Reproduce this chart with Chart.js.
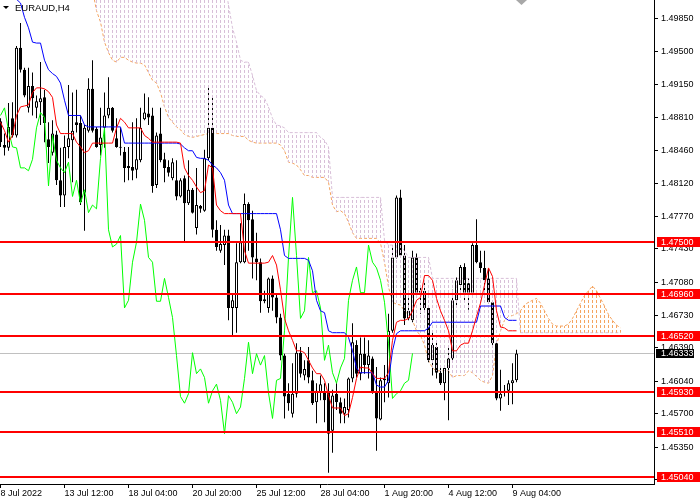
<!DOCTYPE html>
<html><head><meta charset="utf-8">
<script src="https://cdn.jsdelivr.net/npm/chart.js@4"></script>
<style>html,body{margin:0;padding:0;background:#fff;overflow:hidden}canvas{display:block}</style>
</head><body>
<canvas id="c" width="700" height="500"></canvas>
<script>
const symbolTitle = 'EURAUD,H4';
const xTickIndex = [0, 16, 32, 48, 64, 80, 96, 112, 128];
const xTickLabels = ['8 Jul 2022','13 Jul 12:00','18 Jul 04:00','20 Jul 20:00','25 Jul 12:00','28 Jul 04:00','1 Aug 20:00','4 Aug 12:00','9 Aug 04:00'];
const yTickValues = [1.49850,1.49500,1.49150,1.48810,1.48460,1.48120,1.47770,1.47430,1.47080,1.46730,1.46390,1.46040,1.45700,1.45350,1.45010];
const levels = [1.47500, 1.46960, 1.46520, 1.45930, 1.45510, 1.45040];
const lastPrice = 1.46333;

const opens = [1.4877,1.4852,1.4849,1.4880,1.4862,1.4954,1.4931,1.4891,1.4914,1.4891,
1.4897,1.4902,1.4858,1.4844,1.4863,1.4815,1.4799,1.4850,1.4857,1.4876,
1.4875,1.4802,1.4867,1.4911,1.4869,1.4852,1.4870,1.4883,1.4891,1.4859,
1.4850,1.4845,1.4830,1.4829,1.4826,1.4836,1.4879,1.4885,1.4883,1.4810,
1.4864,1.4837,1.4829,1.4817,1.4815,1.4798,1.4817,1.4791,1.4805,1.4765,
1.4788,1.4783,1.4838,1.4870,1.4763,1.4741,1.4747,1.4757,1.4681,1.4681,
1.4729,1.4729,1.4790,1.4774,1.4733,1.4729,1.4690,1.4681,1.4712,1.4692,
1.4671,1.4631,1.4591,1.4570,1.4591,1.4634,1.4610,1.4626,1.4605,1.4582,
1.4592,1.4592,1.4592,1.4552,1.4591,1.4582,1.4570,1.4574,1.4607,1.4642,
1.4612,1.4633,1.4621,1.4628,1.4592,1.4564,1.4605,1.4602,1.4657,1.4734,
1.4797,1.4736,1.4670,1.4668,1.4734,1.4697,1.4699,1.4681,1.4626,1.4640,
1.4613,1.4602,1.4618,1.4628,1.4689,1.4705,1.4724,1.4707,1.4697,1.4747,
1.4729,1.4723,1.4712,1.4687,1.4644,1.4586,1.4592,1.4594,1.4602,1.4605];
const highs = [1.4880,1.4864,1.4896,1.4897,1.4956,1.4980,1.4933,1.4933,1.4928,1.4904,
1.4939,1.4910,1.4876,1.4878,1.4867,1.4849,1.4862,1.4915,1.4907,1.4910,
1.4883,1.4873,1.4922,1.4941,1.4871,1.4891,1.4907,1.4923,1.4892,1.4880,
1.4870,1.4850,1.4850,1.4876,1.4880,1.4891,1.4906,1.4902,1.4891,1.4865,
1.4891,1.4844,1.4836,1.4838,1.4836,1.4817,1.4820,1.4836,1.4807,1.4828,
1.4789,1.4847,1.4912,1.4904,1.4773,1.4768,1.4763,1.4763,1.4696,1.4749,
1.4770,1.4801,1.4792,1.4783,1.4760,1.4733,1.4699,1.4713,1.4715,1.4696,
1.4675,1.4633,1.4602,1.4623,1.4644,1.4640,1.4626,1.4640,1.4615,1.4602,
1.4610,1.4602,1.4602,1.4595,1.4602,1.4587,1.4586,1.4608,1.4665,1.4647,
1.4650,1.4650,1.4647,1.4630,1.4619,1.4608,1.4621,1.4675,1.4747,1.4799,
1.4805,1.4747,1.4692,1.4741,1.4738,1.4703,1.4708,1.4682,1.4657,1.4645,
1.4620,1.4621,1.4640,1.4700,1.4713,1.4726,1.4728,1.4712,1.4749,1.4774,
1.4741,1.4741,1.4723,1.4689,1.4647,1.4616,1.4600,1.4605,1.4623,1.4637];
const lows = [1.4850,1.4841,1.4846,1.4860,1.4860,1.4928,1.4902,1.4886,1.4883,1.4880,
1.4873,1.4855,1.4833,1.4841,1.4810,1.4787,1.4787,1.4838,1.4813,1.4865,
1.4789,1.4762,1.4865,1.4865,1.4849,1.4841,1.4849,1.4880,1.4865,1.4849,
1.4841,1.4813,1.4815,1.4815,1.4817,1.4834,1.4878,1.4873,1.4802,1.4807,
1.4834,1.4813,1.4819,1.4815,1.4794,1.4797,1.4750,1.4789,1.4780,1.4758,
1.4781,1.4782,1.4836,1.4755,1.4741,1.4739,1.4726,1.4668,1.4652,1.4655,
1.4728,1.4728,1.4741,1.4712,1.4710,1.4676,1.4686,1.4676,1.4678,1.4665,
1.4626,1.4565,1.4573,1.4566,1.4587,1.4608,1.4605,1.4602,1.4579,1.4560,
1.4584,1.4561,1.4508,1.4529,1.4574,1.4560,1.4560,1.4566,1.4603,1.4608,
1.4605,1.4612,1.4607,1.4591,1.4531,1.4563,1.4582,1.4587,1.4655,1.4733,
1.4734,1.4663,1.4668,1.4666,1.4696,1.4675,1.4676,1.4624,1.4610,1.4607,
1.4600,1.4584,1.4563,1.4626,1.4684,1.4692,1.4689,1.4679,1.4692,1.4728,
1.4718,1.4697,1.4686,1.4640,1.4584,1.4573,1.4588,1.4579,1.4580,1.4603];
const closes = [1.4855,1.4849,1.4871,1.4862,1.4954,1.4931,1.4904,1.4914,1.4901,1.4898,
1.4901,1.4875,1.4850,1.4864,1.4815,1.4799,1.4850,1.4859,1.4867,1.4873,
1.4792,1.4870,1.4911,1.4867,1.4850,1.4860,1.4883,1.4891,1.4867,1.4850,
1.4849,1.4828,1.4828,1.4825,1.4837,1.4870,1.4886,1.4881,1.4809,1.4862,
1.4836,1.4828,1.4823,1.4834,1.4798,1.4815,1.4791,1.4805,1.4781,1.4789,
1.4785,1.4838,1.4870,1.4763,1.4745,1.4748,1.4757,1.4681,1.4689,1.4729,
1.4750,1.4790,1.4773,1.4734,1.4729,1.4688,1.4688,1.4712,1.4692,1.4671,
1.4631,1.4588,1.4581,1.4591,1.4634,1.4612,1.4617,1.4608,1.4581,1.4594,
1.4601,1.4584,1.4549,1.4589,1.4582,1.4570,1.4577,1.4607,1.4645,1.4612,
1.4633,1.4621,1.4631,1.4592,1.4565,1.4605,1.4607,1.4657,1.4734,1.4797,
1.4736,1.4670,1.4678,1.4734,1.4697,1.4699,1.4681,1.4626,1.4642,1.4613,
1.4602,1.4618,1.4628,1.4689,1.4710,1.4724,1.4697,1.4697,1.4747,1.4729,
1.4723,1.4710,1.4687,1.4644,1.4586,1.4591,1.4594,1.4602,1.4605,1.46333];

const tenkan = [1.4876,1.4867,1.4855,1.4862,1.4883,1.4892,1.4893,1.4894,1.4907,1.4912,
1.4912,1.4911,1.4908,1.4902,1.4873,1.4864,1.4864,1.4864,1.4864,1.4855,
1.4850,1.4844,1.4846,1.4854,1.4854,1.4854,1.4854,1.4854,1.4854,1.4870,
1.4880,1.4876,1.4870,1.4870,1.4870,1.4870,1.4862,1.4859,1.4855,1.4855,
1.4855,1.4855,1.4855,1.4855,1.4855,1.4854,1.4828,1.4820,1.4815,1.4808,
1.4802,1.4804,1.4831,1.4828,1.4789,1.4783,1.4780,1.4780,1.4780,1.4780,
1.4780,1.4741,1.4728,1.4728,1.4728,1.4728,1.4728,1.4729,1.4736,1.4726,
1.4700,1.4670,1.4657,1.4647,1.4636,1.4636,1.4634,1.4626,1.4618,1.4612,
1.4612,1.4605,1.4589,1.4576,1.4576,1.4576,1.4568,1.4570,1.4587,1.4607,
1.4619,1.4618,1.4618,1.4612,1.4607,1.4607,1.4607,1.4613,1.4647,1.4666,
1.4668,1.4668,1.4670,1.4678,1.4689,1.4692,1.4715,1.4715,1.4710,1.4691,
1.4678,1.4668,1.4657,1.4636,1.4636,1.4642,1.4644,1.4644,1.4657,1.4672,
1.4686,1.4705,1.4723,1.4714,1.4678,1.4661,1.4660,1.4657,1.4657,1.4657];
const kijun = [1.5025,1.5017,1.5010,1.5007,1.5005,1.5001,1.4986,1.4975,1.4960,1.4959,
1.4959,1.4941,1.4931,1.4927,1.4924,1.4917,1.4899,1.4883,1.4883,1.4883,
1.4883,1.4873,1.4871,1.4871,1.4871,1.4871,1.4871,1.4871,1.4871,1.4871,
1.4871,1.4854,1.4854,1.4854,1.4854,1.4854,1.4854,1.4854,1.4854,1.4854,
1.4854,1.4854,1.4854,1.4854,1.4854,1.4853,1.4849,1.4846,1.4846,1.4839,
1.4838,1.4838,1.4836,1.4831,1.4828,1.4823,1.4815,1.4789,1.4780,1.4780,
1.4780,1.4780,1.4780,1.4780,1.4780,1.4780,1.4780,1.4780,1.4780,1.4780,
1.4763,1.4736,1.4733,1.4733,1.4733,1.4733,1.4733,1.4731,1.4720,1.4689,
1.4678,1.4676,1.4657,1.4655,1.4655,1.4655,1.4655,1.4650,1.4636,1.4618,
1.4613,1.4613,1.4613,1.4613,1.4600,1.4598,1.4598,1.4605,1.4636,1.4654,
1.4657,1.4657,1.4657,1.4657,1.4657,1.4657,1.4657,1.4660,1.4666,1.4666,
1.4666,1.4666,1.4666,1.4666,1.4666,1.4666,1.4666,1.4666,1.4666,1.4666,
1.4683,1.4683,1.4683,1.4683,1.4683,1.4683,1.4671,1.4668,1.4668,1.4668];

const spanA = [null,null,null,null,null,null,null,null,null,null,
null,null,null,null,null,null,null,null,null,null,
null,null,null,1.5015,1.4993,1.4981,1.4960,1.4949,1.4941,1.4939,
1.4944,1.4944,1.4941,1.4939,1.4938,1.4938,1.4936,1.4928,1.4920,1.4917,
1.4907,1.4892,1.4881,1.4876,1.4871,1.4868,1.4863,1.4861,1.4860,1.4861,
1.4862,1.4863,1.4864,1.4864,1.4864,1.4864,1.4864,1.4864,1.4862,1.4861,
1.4861,1.4861,1.4857,1.4855,1.4854,1.4854,1.4854,1.4854,1.4854,1.4854,
1.4852,1.4846,1.4834,1.4833,1.4831,1.4826,1.4820,1.4820,1.4818,1.4818,
1.4818,1.4818,1.4813,1.4789,1.4782,1.4783,1.4780,1.4771,1.4760,1.4754,
1.4754,1.4754,1.4754,1.4754,1.4754,1.4749,1.4729,1.4703,1.4687,1.4685,
1.4684,1.4678,1.4673,1.4668,1.4657,1.4652,1.4642,1.4626,1.4618,1.4615,
1.4615,1.4615,1.4615,1.4608,1.4610,1.4610,1.4610,1.4615,1.4613,1.4609,
1.4605,1.4603,1.4602,1.4610,1.4642,1.4657,1.4668,1.4672,1.4673,1.4675,
1.4678,1.4684,1.4687,1.4689,1.4691,1.4686,1.4678,1.4670,1.4664,1.4662,
1.4662,1.4662,1.4664,1.4670,1.4678,1.4686,1.4694,1.4699,1.4704,1.4699,
1.4691,1.4683,1.4674,1.4668,1.4663,1.4660];
const spanB = [null,null,null,null,null,null,null,null,null,null,
null,null,null,null,null,null,null,null,null,null,
null,null,null,1.5057,1.5057,1.5057,1.5057,1.5057,1.5057,1.5057,
1.5057,1.5057,1.5057,1.5057,1.5057,1.5057,1.5057,1.5057,1.5057,1.5057,
1.5057,1.5057,1.5057,1.5057,1.5057,1.5057,1.5025,1.5025,1.5025,1.5025,
1.5025,1.5025,1.5025,1.5025,1.5025,1.5025,1.5025,1.4999,1.4975,1.4960,
1.4941,1.4939,1.4939,1.4925,1.4909,1.4904,1.4901,1.4892,1.4880,1.4873,
1.4872,1.4870,1.4865,1.4865,1.4865,1.4865,1.4865,1.4865,1.4865,1.4865,
1.4860,1.4857,1.4850,1.4797,1.4797,1.4797,1.4797,1.4797,1.4797,1.4797,
1.4797,1.4797,1.4797,1.4797,1.4797,1.4797,1.4752,1.4747,1.4747,1.4747,
1.4747,1.4741,1.4734,1.4734,1.4734,1.4734,1.4734,1.4734,1.4712,1.4712,
1.4712,1.4712,1.4712,1.4712,1.4712,1.4712,1.4712,1.4712,1.4712,1.4712,
1.4712,1.4712,1.4712,1.4712,1.4712,1.4712,1.4712,1.4712,1.4712,1.4712,
1.4655,1.4655,1.4655,1.4655,1.4655,1.4655,1.4655,1.4655,1.4655,1.4655,
1.4655,1.4655,1.4655,1.4655,1.4655,1.4655,1.4655,1.4655,1.4655,1.4655,
1.4655,1.4655,1.4655,1.4655,1.4655,1.4655];

const CHIKOU_SHIFT = 26;
const FONT = '"Liberation Sans", Arial, sans-serif';
Chart.defaults.font.family = FONT;

const idx = opens.map((_, i) => i);
const pts = arr => arr.map((v, i) => ({x: i, y: v}));
const BODY_INDEX = 3;

const cloudPlugin = {
  id: 'cloudHatch',
  beforeDatasetsDraw(chart) {
    const {ctx, chartArea: a, scales: {y}} = chart;
    const py = Math.round(y.getPixelForValue(lastPrice)) + 0.5;
    ctx.save();
    ctx.strokeStyle = '#c0c0c0'; ctx.lineWidth = 1;
    ctx.beginPath(); ctx.moveTo(a.left, py); ctx.lineTo(a.right, py); ctx.stroke();
    ctx.restore();
  },
  afterDatasetDraw(chart, args) {
    if (args.index !== BODY_INDEX) return;
    const {ctx, chartArea: a, scales: {x, y}} = chart;
    ctx.save();
    ctx.beginPath(); ctx.rect(a.left, a.top, a.right - a.left, a.bottom - a.top); ctx.clip();
    ctx.lineWidth = 1;
    ctx.setLineDash([3, 2]);
    for (let i = 0; i < spanA.length; i++) {
      const va = spanA[i], vb = spanB[i];
      if (va == null || vb == null) continue;
      const px = Math.floor(x.getPixelForValue(i)) + 0.5;
      const ya = y.getPixelForValue(va), yb = y.getPixelForValue(vb);
      const top = Math.max(Math.min(ya, yb), a.top - 10), bot = Math.max(ya, yb);
      if (bot < a.top) continue;
      ctx.strokeStyle = va > vb ? '#f4a460' : '#d8bfd8';
      ctx.lineDashOffset = ((top % 5) + 5) % 5;
      ctx.beginPath(); ctx.moveTo(px, top); ctx.lineTo(px, bot); ctx.stroke();
    }
    ctx.restore();
  },
  afterDraw(chart) {
    const {ctx, chartArea: a, scales: {y}} = chart;
    ctx.save();
    ctx.fillStyle = '#ff0000';
    levels.forEach(v => {
      const py = Math.round(y.getPixelForValue(v));
      ctx.fillRect(a.left, py - 1, a.right - a.left, 2);
    });
    ctx.font = '9px ' + FONT;
    ctx.textBaseline = 'middle';
    ctx.textAlign = 'left';
    levels.forEach(v => {
      const py = Math.round(y.getPixelForValue(v));
      ctx.fillStyle = '#ff0000';
      ctx.fillRect(a.right + 3, py - 5, 700 - a.right - 3, 10);
      ctx.fillStyle = '#ffffff';
      ctx.fillText(v.toFixed(5), a.right + 7, py + 0.5);
    });
    const lp = Math.round(y.getPixelForValue(lastPrice));
    ctx.fillStyle = '#000000';
    ctx.fillRect(a.right + 2, lp - 4, 38, 9);
    ctx.fillStyle = '#ffffff';
    ctx.fillText(lastPrice.toFixed(5), a.right + 7, lp + 0.5);
    ctx.fillStyle = '#000';
    ctx.beginPath(); ctx.moveTo(3, 6); ctx.lineTo(9, 6); ctx.lineTo(6, 9); ctx.closePath(); ctx.fill();
    ctx.font = '9.5px ' + FONT;
    ctx.textBaseline = 'alphabetic';
    ctx.fillText(symbolTitle, 15, 11);
    ctx.fillStyle = '#a8a8a8';
    ctx.beginPath(); ctx.moveTo(516, 0); ctx.lineTo(527, 0); ctx.lineTo(521.5, 5); ctx.closePath(); ctx.fill();
    ctx.restore();
  }
};

const lineDS = (label, data, color, order, dash) => ({
  type: 'line', label, data, borderColor: color, borderWidth: 1, pointRadius: 0,
  tension: 0, spanGaps: false, order, borderDash: dash || [], fill: false
});

new Chart(document.getElementById('c'), {
  type: 'bar',
  data: {
    datasets: [
      lineDS('Senkou A', pts(spanA), '#f4a460', 9, [3, 2]),
      lineDS('Senkou B', pts(spanB), '#d8bfd8', 9, [3, 2]),
      { type: 'bar', label: 'wick', data: idx.map(i => ({x: i, y: [lows[i], highs[i]]})),
        backgroundColor: '#000', borderWidth: 0, barThickness: 1, grouped: false, inflateAmount: 0, order: 8 },
      { type: 'bar', label: 'body', data: idx.map(i => ({x: i, y: [opens[i], closes[i]]})),
        backgroundColor: idx.map(i => closes[i] > opens[i] ? '#ffffff' : '#000000'),
        borderColor: '#000', borderWidth: 1, borderSkipped: false, barThickness: 3,
        grouped: false, inflateAmount: 0, minBarLength: 1, order: 7 },
      lineDS('Chikou', closes.slice(CHIKOU_SHIFT).map((v, i) => ({x: i, y: v})), '#00ff00', 3),
      lineDS('Kijun', pts(kijun), '#0000ff', 2),
      lineDS('Tenkan', pts(tenkan), '#ff0000', 1)
    ]
  },
  options: {
    responsive: false, animation: false, devicePixelRatio: 1,
    layout: { padding: 0 },
    plugins: { legend: { display: false }, tooltip: { enabled: false }, title: { display: false } },
    scales: {
      x: {
        type: 'linear', min: -0.125, max: 163.375, offset: false, position: 'bottom',
        afterBuildTicks: s => { s.ticks = xTickIndex.map(v => ({value: v})); },
        afterFit: s => { s.height = 16; s.paddingLeft = 0; s.paddingRight = 0; },
        ticks: {
          callback: v => xTickLabels[xTickIndex.indexOf(v)], align: 'start', maxRotation: 0,
          autoSkip: false, font: { size: 9 }, color: '#000', padding: 0
        },
        grid: { display: true, drawOnChartArea: false, drawTicks: true, tickLength: 4, color: '#000', offset: false },
        border: { display: true, color: '#000' }
      },
      y: {
        type: 'linear', position: 'right', min: 1.44962, max: 1.50042,
        afterBuildTicks: s => { s.ticks = yTickValues.map(v => ({value: v})); },
        afterFit: s => { s.width = 46; s.paddingTop = 0; s.paddingBottom = 0; },
        ticks: { callback: v => Number(v).toFixed(5), font: { size: 9 }, color: '#000', padding: 3, autoSkip: false },
        grid: { display: true, drawOnChartArea: false, drawTicks: true, tickLength: 4, color: '#000' },
        border: { display: true, color: '#000' }
      }
    }
  },
  plugins: [cloudPlugin]
});
</script>
</body></html>
